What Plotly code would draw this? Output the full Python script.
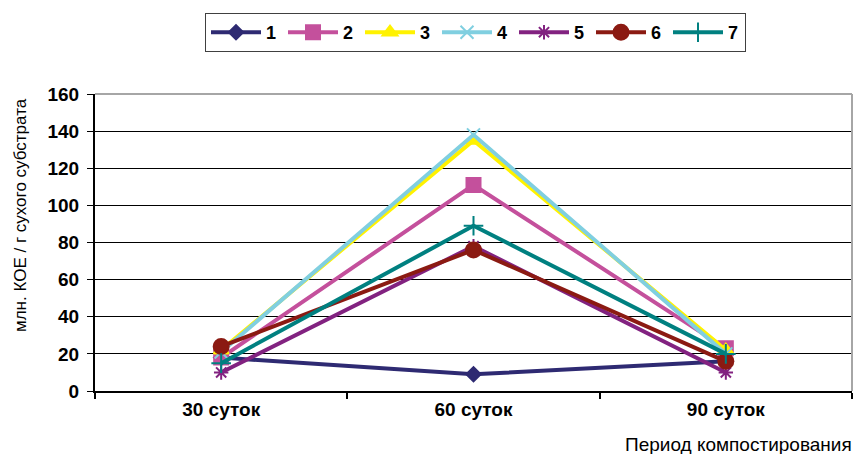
import plotly.graph_objects as go

periods = ["30 суток", "60 суток", "90 суток"]
series_names = ["1", "2", "3", "4", "5", "6", "7"]
s1 = [18, 9, 16]
s2 = [18, 111, 23]
s3 = [22, 135, 22]
s4 = [21, 138, 20]
s5 = [10, 78, 10]
s6 = [24, 76, 16]
s7 = [15, 89, 20]

values = [s1, s2, s3, s4, s5, s6, s7]
colors = ["#2e2a72", "#c4509c", "#fff200", "#80cfe0", "#822280", "#8b1a12", "#008080"]
symbols = ["diamond", "square", "triangle-up", "x-thin", "asterisk-open", "circle", "cross-thin"]
sizes = [11, 14, 13, 13, 12, 15, 14]

fig = go.Figure()
for name, vals, col, sym, sz in zip(series_names, values, colors, symbols, sizes):
    fig.add_trace(go.Scatter(
        x=periods, y=vals, name=name, mode="lines+markers",
        line=dict(color=col, width=4),
        marker=dict(symbol=sym, size=sz, color=col,
                    line=dict(color=col, width=2)),
    ))

font = "Liberation Sans, Arial, sans-serif"

fig.update_layout(
    width=855, height=454,
    margin=dict(l=95, r=3, t=94, b=63),
    paper_bgcolor="white", plot_bgcolor="white",
    font=dict(family=font, size=15, color="black"),
    showlegend=True,
    legend=dict(
        orientation="h", xref="container", yref="container",
        x=205 / 855, y=1 - 13 / 454, xanchor="left", yanchor="top",
        bordercolor="#404040", borderwidth=1, bgcolor="white",
        font=dict(family=font, size=18, color="black", weight="bold"),
        entrywidth=12, entrywidthmode="pixels",
        tracegroupgap=0, itemwidth=50,
    ),
    xaxis=dict(
        type="category", range=[-0.5, 2.5],
        showgrid=False, showline=True, linecolor="black", linewidth=2,
        ticks="outside", tickson="boundaries", ticklen=6, tickcolor="black",
        tickwidth=2,
        tickfont=dict(family=font, size=19, color="black", weight="bold"),
    ),
    yaxis=dict(
        range=[0, 160], dtick=20,
        showgrid=True, gridcolor="black", gridwidth=1,
        showline=True, linecolor="black", linewidth=2,
        ticks="outside", ticklen=6, tickcolor="black", tickwidth=1,
        zeroline=False, ticklabelstandoff=4,
        tickfont=dict(family=font, size=19, color="black", weight="bold"),
    ),
    shapes=[
        dict(type="line", xref="paper", yref="paper", x0=0, x1=1, y0=1, y1=1,
             line=dict(color="#a6a6a6", width=2)),
        dict(type="line", xref="paper", yref="paper", x0=1, x1=1, y0=0, y1=1,
             line=dict(color="#a6a6a6", width=2)),
    ],
    annotations=[
        dict(text="Период компостирования", xref="paper", yref="paper",
             x=1.002, y=(391 - 444) / 297, xanchor="right", yanchor="middle",
             showarrow=False, font=dict(family=font, size=19, color="black")),
        dict(text="млн. КОЕ / г сухого субстрата", xref="paper", yref="paper",
             x=(20 - 95) / 757, y=(391 - 215) / 297, textangle=-90,
             xanchor="center", yanchor="middle",
             showarrow=False, font=dict(family=font, size=17, color="black")),
    ],
)

fig.write_html("out.html")
